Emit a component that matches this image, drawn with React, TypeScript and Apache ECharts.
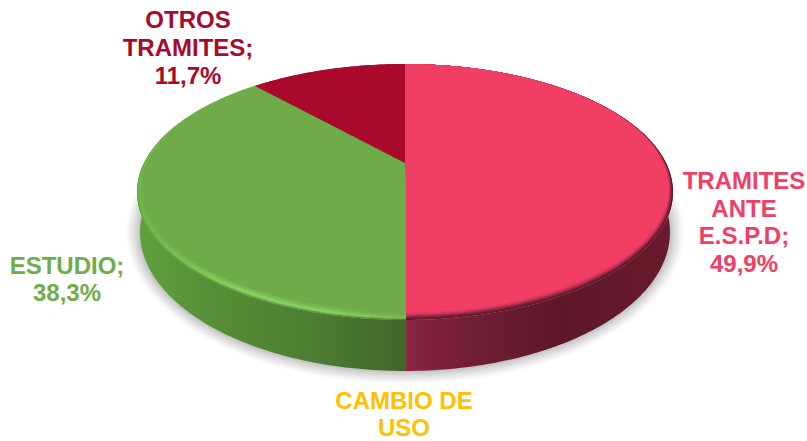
import React, { useEffect, useRef } from "react";
import * as echarts from "echarts";

const categories = ["TRAMITES\nANTE\nE.S.P.D", "CAMBIO DE\nUSO", "ESTUDIO", "OTROS\nTRAMITES"];
const values = [49.9, 0, 38.3, 11.7];
const valueLabels = ["49,9%", "", "38,3%", "11,7%"];
const labelColors = ["#F03E65", "#FFC000", "#70AD47", "#A90A2B"];
const labelAnchors = [[744, 222], [404, 414], [67, 279], [188, 47.5]];

const pinkBevel = [
  [0, "#5f1729"], [1, "#6a1a30"], [2, "#7f2139"], [3, "#992846"], [4, "#b52f50"],
  [5, "#cf3559"], [6, "#e03a5f"], [7, "#ea3d63"], [8, "#F03E65"],
];
const greenBevel = [
  [0, "#5a9a38", "#5c9a3a", "#54893a", "#4c7a30"],
  [0.75, "#64ab40", "#72b54c", "#6ca648", "#6a9a44"],
  [1.5, "#6bb544", "#88cd5e", "#86c95c", "#7cb552"],
  [2.5, "#6eb746", "#8cd362", "#8ace60", "#7abb51"],
  [3.5, "#6fb547", "#88ce5e", "#84c75b", "#76b44d"],
  [4.5, "#70b247", "#80c457", "#7cbd54", "#72ae4a"],
  [6, "#70af48", "#78b950", "#75b44e", "#70AB4A"],
  [8, "#70AB4A", "#70AB4A", "#70AB4A", "#70AB4A"],
];
const wallStops = [
  [[405, "#8B2440"], [470, "#701e34"], [560, "#5e1728"], [669, "#6a1a2e"]],
  [[405, "#b08a10"], [406, "#b08a10"]],
  [[139, "#5FA03C"], [210, "#578f37"], [300, "#4e8032"], [405, "#41662A"]],
  [[139, "#8a0823"], [405, "#8a0823"]],
];
const bevelX = [137, 240, 340, 405];
const shadowGreys = [
  [14, "#fcfcfc"], [13, "#f9f9f9"], [12, "#f6f6f6"], [11, "#f2f2f2"], [10, "#eeeeee"], [9, "#eaeaea"],
  [8, "#e6e6e6"], [7, "#e2e2e2"], [6, "#dddddd"], [5, "#d9d9d9"], [4, "#d4d4d4"], [3, "#cfcfcf"], [2, "#c9c9c9"], [1, "#c3c3c3"],
];

const APEX_X = 405, APEX_Y = 163, TOP_Y = 64, K = 0.2266, A = 261, B = 121.4;
const RIM_CY = 192, RIM_RY = 128, WALL_CY = 232, WALL_RY = 139, WALL_SCALE = 265 / 268;

function project(theta: number): [number, number] {
  const X = Math.sin(theta), Y = Math.cos(theta), w = 1 + K * Y;
  return [APEX_X + (A * X) / w, APEX_Y - (B * Y) / w];
}
function inset([x, y]: [number, number], t: number): [number, number] {
  return [APEX_X + (x - APEX_X) * (1 - (0.6 * t) / 268), TOP_Y + (y - TOP_Y) * (1 - t / 256)];
}
function wallPoint([x, y]: [number, number]): [number, number] {
  return [APEX_X + (x - APEX_X) * WALL_SCALE, WALL_CY + ((y - RIM_CY) * WALL_RY) / RIM_RY];
}
const total = values.reduce((a, b) => a + b, 0);
function arc(i: number): [number, number][] {
  const before = values.slice(0, i).reduce((a, b) => a + b, 0);
  const a0 = (before / total) * Math.PI * 2;
  const a1 = ((before + values[i]) / total) * Math.PI * 2;
  const n = Math.max(2, Math.ceil((a1 - a0) * 60));
  const pts: [number, number][] = [];
  for (let k = 0; k <= n; k++) pts.push(project(a0 + ((a1 - a0) * k) / n));
  return pts;
}
function shadowOutline(t: number): [number, number][] {
  const pts: [number, number][] = [];
  for (let k = 0; k < 200; k++) {
    const [x, y] = wallPoint(project((k / 200) * Math.PI * 2));
    pts.push([APEX_X + (x - APEX_X) * (1 + t / 265), WALL_CY + (y - WALL_CY) * (1 + t / 150)]);
  }
  return pts;
}
const linear = (stops: any[]) => {
  const x0 = stops[0][0], x1 = stops[stops.length - 1][0];
  return new echarts.graphic.LinearGradient(
    x0, 0, x1, 0,
    stops.map((s) => ({ offset: (s[0] - x0) / (x1 - x0), color: s[1] })),
    true
  );
};

function renderWallFill(params: any) {
  const i = params.dataIndex;
  const children: any[] = [];
  if (i === 0) {
    shadowGreys.forEach(([t, grey]) =>
      children.push({
        type: "polygon",
        shape: { points: shadowOutline(t as number) },
        style: { fill: grey as string },
      })
    );
  }
  if (values[i] > 0) {
    const top = arc(i);
    const bottom = top.map(wallPoint).reverse();
    children.push({
      type: "polygon",
      shape: { points: [...top, ...bottom] },
      style: { fill: linear(wallStops[i]) },
    });
  }
  return { type: "group", children };
}
function layerFills(i: number): [number, any][] {
  if (i === 0) return pinkBevel.map((b) => [b[0] as number, b[1]]);
  if (i === 2)
    return greenBevel.map((b) => [
      b[0] as number,
      linear(bevelX.map((x, n) => [x, b[n + 1]])),
    ]);
  return [[0, "#A90A2B"]];
}
function renderFace(params: any) {
  const i = params.dataIndex;
  if (values[i] <= 0) return { type: "group", children: [] };
  const rim = arc(i);
  return {
    type: "group",
    children: layerFills(i).map(([t, fill]) => ({
      type: "polygon",
      shape: { points: [[APEX_X, APEX_Y], ...rim.map((p) => inset(p, t))] },
      style: { fill },
    })),
  };
}
function renderLabel(params: any) {
  const i = params.dataIndex;
  const text = valueLabels[i] ? `${categories[i]};\n${valueLabels[i]}` : categories[i];
  return {
    type: "text",
    style: {
      text,
      x: labelAnchors[i][0],
      y: labelAnchors[i][1],
      textAlign: "center",
      textVerticalAlign: "middle",
      fontFamily: "Liberation Sans",
      fontWeight: "bold",
      fontSize: 24,
      lineHeight: 27.7,
      fill: labelColors[i],
    },
  };
}

export default function App() {
  const ref = useRef<HTMLDivElement>(null);
  useEffect(() => {
    document.body.style.margin = "0";
    const chart = echarts.init(ref.current!, null, { renderer: "svg" });
    const data = values.map((v) => [v]);
    const series = (renderItem: any) => ({
      type: "custom",
      coordinateSystem: "none",
      silent: true,
      renderItem,
      data,
    });
    chart.setOption({
      animation: false,
      backgroundColor: "#ffffff",
      series: [series(renderWallFill), series(renderFace), series(renderLabel)],
    });
    return () => chart.dispose();
  }, []);
  return <div ref={ref} style={{ width: 807, height: 441, overflow: "hidden" }} />;
}
